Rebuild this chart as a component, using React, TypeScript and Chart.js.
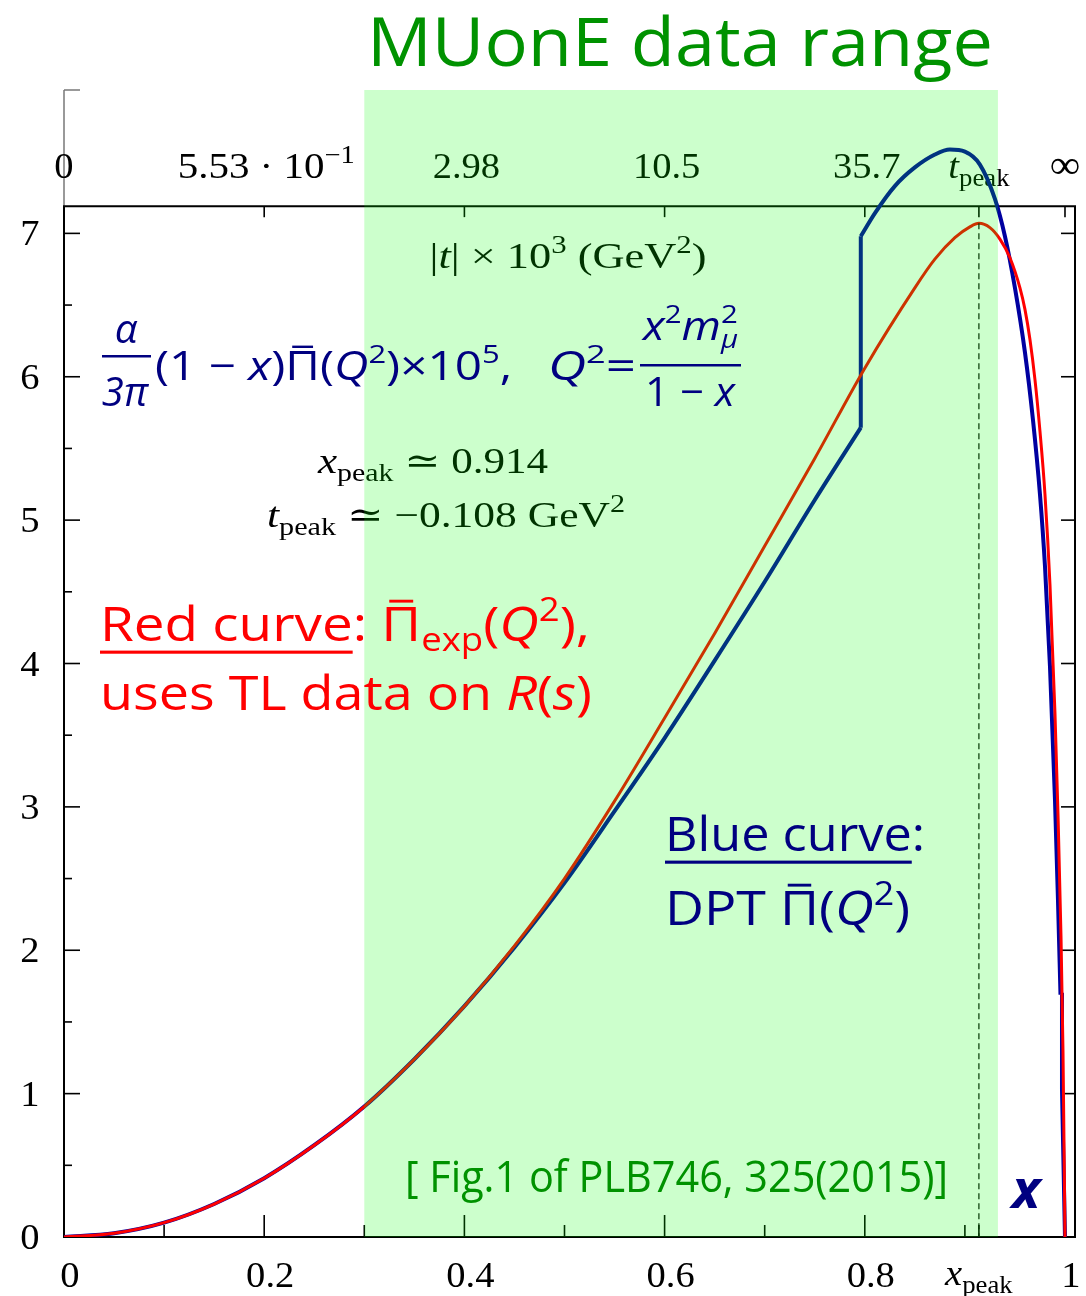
import React, { useEffect, useRef } from "react";
import { Chart, registerables } from "chart.js";

Chart.register(...registerables);

// ---------------- data ----------------
const redX = [0, 0.05, 0.1, 0.15, 0.2, 0.25, 0.3, 0.35, 0.4, 0.45, 0.5, 0.55, 0.6, 0.65, 0.7, 0.75, 0.8, 0.85, 0.87, 0.89, 0.905, 0.914, 0.925, 0.935, 0.945, 0.955, 0.96, 0.965, 0.97, 0.975, 0.98, 0.985, 0.99, 0.993, 0.996, 0.998, 1.0];
const redY = [0, 0.026, 0.1, 0.23, 0.41, 0.64, 0.91, 1.24, 1.61, 2.03, 2.5, 3.04, 3.62, 4.21, 4.82, 5.43, 6.06, 6.62, 6.82, 6.97, 7.045, 7.07, 7.04, 6.96, 6.83, 6.62, 6.47, 6.26, 5.98, 5.62, 5.18, 4.55, 3.65, 2.95, 2.1, 1.3, 0];

const blueLowX = [0, 0.05, 0.1, 0.15, 0.2, 0.25, 0.3, 0.35, 0.4, 0.45, 0.5, 0.55, 0.6, 0.65, 0.7, 0.75, 0.796];
const blueLowY = [0, 0.026, 0.1, 0.23, 0.41, 0.64, 0.91, 1.24, 1.61, 2.02, 2.47, 2.97, 3.48, 4.02, 4.57, 5.14, 5.645];
const blueJumpX = [0.796, 0.796];
const blueJumpY = [5.645, 6.98];
const blueHighX = [0.796, 0.81, 0.83, 0.85, 0.87, 0.885, 0.9, 0.915, 0.93, 0.94, 0.95, 0.96, 0.968, 0.975, 0.98, 0.985, 0.99, 0.993, 0.9955];
const blueHighY = [6.98, 7.14, 7.33, 7.46, 7.55, 7.585, 7.57, 7.48, 7.24, 6.98, 6.62, 6.17, 5.7, 5.18, 4.68, 3.98, 3.05, 2.35, 1.69];
const blueTailX = [0.9955, 0.997, 0.997, 1.0];
const blueTailY = [1.69, 1.69, 1.03, 0];

const xMajorTicks = [0, 0.2, 0.4, 0.6, 0.8, 1];
const xMajorLabels = ["0", "0.2", "0.4", "0.6", "0.8", "1"];
const xMinorTicks = [0.1, 0.3, 0.5, 0.7, 0.9];
const yMajorTicks = [0, 1, 2, 3, 4, 5, 6, 7];
const yMinorTicks = [0.5, 1.5, 2.5, 3.5, 4.5, 5.5, 6.5];
const topTickX = [0, 0.2, 0.4, 0.6, 0.8, 0.914, 1];
const topTickLabels = ["0", "5.53·10^−1", "2.98", "10.5", "35.7", "t_peak", "∞"];
const xPeak = 0.914;
const yPeak = 7.07;
const topAxisValue = 7.19;
const muoneRange = [0.3, 0.933];
const xMax = 1.01;
const yMax = 8;

// ---------------- helpers ----------------
const SERIF = '"Liberation Serif", "DejaVu Serif", serif';
const SANS = '"Open Sans", "Noto Sans", sans-serif';
const NAVY = "#000080";
const RED = "#ff0000";
const GREEN = "#009200";

const fnt = (style: string, size: number, fam: string) => `${style} ${size}px ${fam}`;

type Seg = { t: string; font: string; dy?: number; bar?: boolean; under?: boolean; noAdv?: boolean };

function drawRich(
  ctx: CanvasRenderingContext2D,
  segs: Seg[],
  x: number,
  y: number,
  color: string,
  align: "left" | "center" | "right" = "left",
  width?: number,
  sxIn = 1
) {
  const ws = segs.map((s) => {
    ctx.font = s.font;
    return ctx.measureText(s.t).width;
  });
  const total = segs.reduce((a, s, i) => a + (s.noAdv ? 0 : ws[i]), 0);
  const sx = width ? width / total : sxIn;
  const w = total * sx;
  const x0 = align === "center" ? x - w / 2 : align === "right" ? x - w : x;
  ctx.save();
  ctx.translate(x0, y);
  ctx.scale(sx, 1);
  ctx.textAlign = "left";
  ctx.textBaseline = "alphabetic";
  ctx.fillStyle = color;
  let cx = 0;
  segs.forEach((s, i) => {
    ctx.font = s.font;
    ctx.fillText(s.t, cx, s.dy || 0);
    const m = s.font.match(/(\d+(\.\d+)?)px/);
    const size = m ? parseFloat(m[1]) : 20;
    if (s.bar) ctx.fillRect(cx + ws[i] * 0.2, -size * 0.86 + (s.dy || 0), ws[i] * 0.6, size * 0.06);
    if (s.under) ctx.fillRect(cx, size * 0.2, ws[i], size * 0.065);
    if (!s.noAdv) cx += ws[i];
  });
  ctx.restore();
}

function line(ctx: CanvasRenderingContext2D, x1: number, y1: number, x2: number, y2: number) {
  ctx.beginPath();
  ctx.moveTo(x1, y1);
  ctx.lineTo(x2, y2);
  ctx.stroke();
}

const pts = (xs: number[], ys: number[]) => xs.map((x, i) => ({ x, y: ys[i] }));

// ---------------- plugin ----------------
const figPlugin = {
  id: "figPlugin",
  beforeDatasetsDraw(chart: any) {
    const ctx: CanvasRenderingContext2D = chart.ctx;
    const sx = chart.scales.x;
    const sy = chart.scales.y;
    const X = (v: number) => sx.getPixelForValue(v);
    const Y = (v: number) => sy.getPixelForValue(v);
    const left = X(0);
    const right = chart.chartArea.right;
    const bottom = Y(0);
    const topAx = Y(topAxisValue);
    const topArea = chart.chartArea.top;
    ctx.save();
    // gray extension of left axis
    ctx.strokeStyle = "#777";
    ctx.lineWidth = 1.5;
    line(ctx, left, topArea, left, topAx);
    line(ctx, left, topArea, left + 16, topArea);
    // frame
    ctx.strokeStyle = "#000";
    ctx.lineWidth = 2;
    ctx.beginPath();
    ctx.moveTo(left, topAx);
    ctx.lineTo(right, topAx);
    ctx.lineTo(right, bottom);
    ctx.lineTo(left, bottom);
    ctx.closePath();
    ctx.stroke();
    ctx.lineWidth = 1.6;
    // bottom ticks
    xMajorTicks.forEach((v) => line(ctx, X(v), bottom, X(v), bottom - 22));
    xMinorTicks.forEach((v) => line(ctx, X(v), bottom, X(v), bottom - 12));
    line(ctx, X(xPeak), bottom, X(xPeak), bottom - 12);
    // top ticks
    topTickX.forEach((v) => line(ctx, X(v), topAx, X(v), topAx + 11));
    // left/right ticks
    yMajorTicks.forEach((v) => {
      line(ctx, left, Y(v), left + 16, Y(v));
      if (v > 0) line(ctx, right, Y(v), right - 14, Y(v));
    });
    yMinorTicks.forEach((v) => line(ctx, left, Y(v), left + 8, Y(v)));

    // tick labels (serif)
    const S = 36;
    const sxs = 1.07;
    xMajorTicks.forEach((v, i) => {
      drawRich(ctx, [{ t: xMajorLabels[i], font: fnt("normal", S, SERIF) }], X(v) + 6, 1287, "#000", "center", undefined, sxs);
    });
    drawRich(
      ctx,
      [
        { t: "x", font: fnt("italic", S, SERIF) },
        { t: "peak", font: fnt("normal", 25, SERIF), dy: 8 },
      ],
      X(xPeak),
      1285,
      "#000",
      "center",
      undefined,
      sxs
    );
    yMajorTicks.forEach((v) => {
      drawRich(ctx, [{ t: String(v), font: fnt("normal", S, SERIF) }], 30, Y(v) + 12, "#000", "center", undefined, sxs);
    });
    // top labels
    topTickX.forEach((v, i) => {
      const lab = topTickLabels[i];
      let segs: Seg[];
      let width: number | undefined;
      if (lab.startsWith("5.53")) {
        segs = [
          { t: "5.53 · 10", font: fnt("normal", S, SERIF) },
          { t: "−1", font: fnt("normal", 25, SERIF), dy: -15 },
        ];
        width = 177;
      } else if (lab === "t_peak") {
        segs = [
          { t: "t", font: fnt("italic", S, SERIF) },
          { t: "peak", font: fnt("normal", 25, SERIF), dy: 8 },
        ];
      } else {
        segs = [{ t: lab, font: fnt("normal", lab === "∞" ? 40 : S, SERIF) }];
      }
      drawRich(ctx, segs, X(v) + (i === 0 || i >= 5 ? 0 : 2), 178, "#000", "center", width, sxs);
    });
    // |t| label
    drawRich(
      ctx,
      [
        { t: "|", font: fnt("normal", S, SERIF) },
        { t: "t", font: fnt("italic", S, SERIF) },
        { t: "| × 10", font: fnt("normal", S, SERIF) },
        { t: "3", font: fnt("normal", 25, SERIF), dy: -15 },
        { t: " (GeV", font: fnt("normal", S, SERIF) },
        { t: "2", font: fnt("normal", 25, SERIF), dy: -15 },
        { t: ")", font: fnt("normal", S, SERIF) },
      ],
      568,
      268,
      "#000",
      "center",
      277
    );
    // x_peak / t_peak texts
    drawRich(
      ctx,
      [
        { t: "x", font: fnt("italic", S, SERIF) },
        { t: "peak", font: fnt("normal", 25, SERIF), dy: 8 },
        { t: " ≃ 0.914", font: fnt("normal", S, SERIF) },
      ],
      433,
      473,
      "#000",
      "center",
      230
    );
    drawRich(
      ctx,
      [
        { t: "t", font: fnt("italic", S, SERIF) },
        { t: "peak", font: fnt("normal", 25, SERIF), dy: 8 },
        { t: " ≃ −0.108 GeV", font: fnt("normal", S, SERIF) },
        { t: "2", font: fnt("normal", 25, SERIF), dy: -15 },
      ],
      446,
      527,
      "#000",
      "center",
      358
    );
    ctx.restore();
  },
  afterDatasetsDraw(chart: any) {
    const ctx: CanvasRenderingContext2D = chart.ctx;
    const sx = chart.scales.x;
    const sy = chart.scales.y;
    const X = (v: number) => sx.getPixelForValue(v);
    const Y = (v: number) => sy.getPixelForValue(v);
    const bottom = Y(0);
    ctx.save();
    // dashed peak line
    ctx.strokeStyle = "#000";
    ctx.lineWidth = 1.2;
    ctx.setLineDash([6, 4]);
    line(ctx, X(xPeak), Y(yPeak), X(xPeak), bottom);
    ctx.setLineDash([]);
    // green MUonE overlay
    ctx.fillStyle = "rgba(0,255,0,0.2)";
    const x1 = X(muoneRange[0]);
    const x2 = X(muoneRange[1]);
    ctx.fillRect(x1, chart.chartArea.top, x2 - x1, bottom - chart.chartArea.top);

    // title
    drawRich(ctx, [{ t: "MUonE data range", font: fnt("500", 68, SANS) }], 367, 66, GREEN, "left", 626);

    // formula
    const F = 40;
    const Fs = 26;
    drawRich(ctx, [{ t: "α", font: fnt("italic", F, SANS) }], 126, 343, NAVY, "center");
    ctx.fillStyle = NAVY;
    ctx.fillRect(102, 355, 49, 2.5);
    drawRich(ctx, [{ t: "3π", font: fnt("italic", F, SANS) }], 125, 406, NAVY, "center");
    drawRich(
      ctx,
      [
        { t: "(1 − ", font: fnt("normal", F, SANS) },
        { t: "x", font: fnt("italic", F, SANS) },
        { t: ")", font: fnt("normal", F, SANS) },
        { t: "Π", font: fnt("normal", F, SANS), bar: true },
        { t: "(", font: fnt("normal", F, SANS) },
        { t: "Q", font: fnt("italic", F, SANS) },
        { t: "2", font: fnt("normal", Fs, SANS), dy: -17 },
        { t: ")×10", font: fnt("normal", F, SANS) },
        { t: "5", font: fnt("normal", Fs, SANS), dy: -17 },
        { t: ",", font: fnt("normal", F, SANS) },
      ],
      155,
      380,
      NAVY,
      "left",
      357
    );
    drawRich(
      ctx,
      [
        { t: "Q", font: fnt("italic", F, SANS) },
        { t: "2", font: fnt("normal", Fs, SANS), dy: -17 },
        { t: "=", font: fnt("normal", F, SANS) },
      ],
      548,
      380,
      NAVY,
      "left",
      88
    );
    drawRich(
      ctx,
      [
        { t: "x", font: fnt("italic", F, SANS) },
        { t: "2", font: fnt("normal", Fs, SANS), dy: -17 },
        { t: "m", font: fnt("italic", F, SANS) },
        { t: "2", font: fnt("normal", Fs, SANS), dy: -17, noAdv: true },
        { t: "μ", font: fnt("italic", Fs, SANS), dy: 8 },
      ],
      643,
      340,
      NAVY,
      "left",
      95
    );
    ctx.fillStyle = NAVY;
    ctx.fillRect(640, 364, 101, 2.5);
    drawRich(
      ctx,
      [
        { t: "1 − ", font: fnt("normal", F, SANS) },
        { t: "x", font: fnt("italic", F, SANS) },
      ],
      645,
      406,
      NAVY,
      "left",
      90
    );

    // red annotation
    const R = 48;
    drawRich(
      ctx,
      [
        { t: "Red curve", font: fnt("normal", R, SANS), under: true },
        { t: ": ", font: fnt("normal", R, SANS) },
        { t: "Π", font: fnt("normal", R, SANS), bar: true },
        { t: "exp", font: fnt("normal", 32, SANS), dy: 10 },
        { t: "(", font: fnt("normal", R, SANS) },
        { t: "Q", font: fnt("italic", R, SANS) },
        { t: "2", font: fnt("normal", 32, SANS), dy: -20 },
        { t: "),", font: fnt("normal", R, SANS) },
      ],
      100,
      641,
      RED,
      "left",
      490
    );
    drawRich(
      ctx,
      [
        { t: "uses TL data on ", font: fnt("normal", R, SANS) },
        { t: "R", font: fnt("italic", R, SANS) },
        { t: "(", font: fnt("normal", R, SANS) },
        { t: "s", font: fnt("italic", R, SANS) },
        { t: ")", font: fnt("normal", R, SANS) },
      ],
      100,
      710,
      RED,
      "left",
      492
    );

    // blue annotation
    drawRich(
      ctx,
      [
        { t: "Blue curve", font: fnt("normal", R, SANS), under: true },
        { t: ":", font: fnt("normal", R, SANS) },
      ],
      665,
      851,
      NAVY,
      "left",
      260
    );
    drawRich(
      ctx,
      [
        { t: "DPT ", font: fnt("normal", R, SANS) },
        { t: "Π", font: fnt("normal", R, SANS), bar: true },
        { t: "(", font: fnt("normal", R, SANS) },
        { t: "Q", font: fnt("italic", R, SANS) },
        { t: "2", font: fnt("normal", 32, SANS), dy: -20 },
        { t: ")", font: fnt("normal", R, SANS) },
      ],
      665,
      925,
      NAVY,
      "left",
      245
    );

    // reference
    drawRich(ctx, [{ t: "[ Fig.1 of PLB746, 325(2015)]", font: fnt("normal", 44, SANS) }], 405, 1192, GREEN, "left", 543);

    // x label
    drawRich(ctx, [{ t: "x", font: fnt("italic bold", 54, SANS) }], 1026, 1208, NAVY, "center");
    ctx.restore();
  },
};

export default function App() {
  const ref = useRef<HTMLCanvasElement | null>(null);
  useEffect(() => {
    if (!ref.current) return;
    const blue = "rgb(0,0,160)";
    const chart = new Chart(ref.current, {
      type: "line",
      data: {
        datasets: [
          { data: pts(redX, redY), borderColor: "rgb(255,0,0)", borderWidth: 3, cubicInterpolationMode: "monotone", pointRadius: 0, fill: false },
          { data: pts(blueLowX, blueLowY), borderColor: blue, borderWidth: 4, cubicInterpolationMode: "monotone", pointRadius: 0, fill: false },
          { data: pts(blueJumpX, blueJumpY), borderColor: blue, borderWidth: 4, tension: 0, pointRadius: 0, fill: false },
          { data: pts(blueHighX, blueHighY), borderColor: blue, borderWidth: 4, cubicInterpolationMode: "monotone", pointRadius: 0, fill: false },
          { data: pts(blueTailX, blueTailY), borderColor: blue, borderWidth: 4, tension: 0, pointRadius: 0, fill: false },
        ] as any,
      },
      options: {
        responsive: false,
        animation: false,
        devicePixelRatio: 1,
        parsing: false,
        layout: { padding: { left: 64, right: 11, top: 90, bottom: 59 } },
        plugins: { legend: { display: false }, tooltip: { enabled: false } },
        scales: {
          x: { type: "linear", min: 0, max: xMax, display: false },
          y: { type: "linear", min: 0, max: yMax, display: false },
        },
      } as any,
      plugins: [figPlugin as any],
    });
    return () => chart.destroy();
  }, []);
  return (
    <div style={{ position: "absolute", left: 0, top: 0, width: 1086, height: 1296, background: "#fff" }}>
      <canvas ref={ref} width={1086} height={1296} style={{ display: "block", width: 1086, height: 1296 }} />
    </div>
  );
}
